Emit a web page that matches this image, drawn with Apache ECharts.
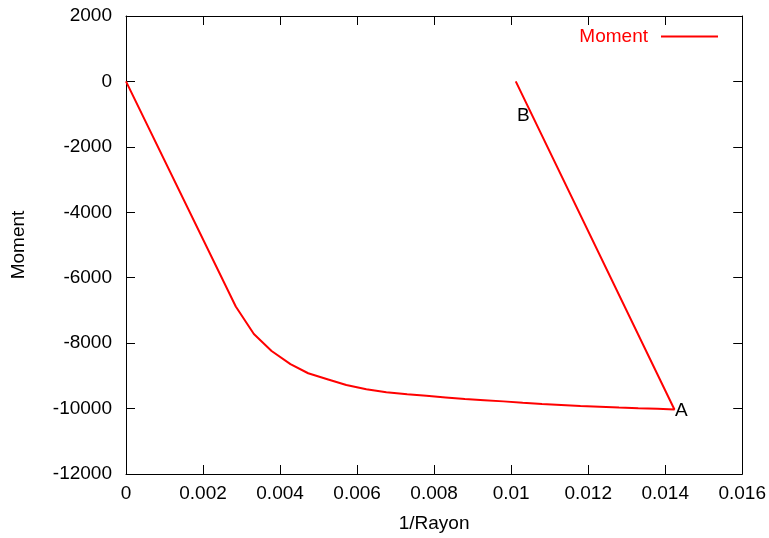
<!DOCTYPE html>
<html>
<head>
<meta charset="utf-8">
<script src="https://cdn.jsdelivr.net/npm/echarts@6/dist/echarts.min.js"></script>
<style>
  html, body { margin: 0; padding: 0; background: #fff; }
  #main { width: 769px; height: 538px; }
</style>
</head>
<body>
<div id="main"></div>
<script>
// 1/Rayon (curvature) and Moment values
const curvature = [0, 0.00285, 0.00332, 0.00378, 0.00427, 0.00473, 0.00525, 0.00572, 0.00624,
  0.00676, 0.0073, 0.0078, 0.0083, 0.0088, 0.0093, 0.0098, 0.0103, 0.0108, 0.0113,
  0.0118, 0.0123, 0.0128, 0.0133, 0.0138, 0.01424, 0.01012];
const moment = [0, -6880, -7720, -8240, -8640, -8920, -9110, -9280, -9410,
  -9500, -9560, -9610, -9660, -9710, -9745, -9780, -9825, -9860, -9890,
  -9920, -9945, -9970, -9990, -10005, -10030, 0];

const xTicks = [0, 0.002, 0.004, 0.006, 0.008, 0.01, 0.012, 0.014, 0.016];
const yTicks = [-12000, -10000, -8000, -6000, -4000, -2000, 0, 2000];

const pointNames = ["A", "B"];
const pointX = [0.0142, 0.0101];
const pointY = [-10080, -1060];

const font = "Liberation Sans, Arial, sans-serif";
const fontSize = 19;

const data = curvature.map((x, i) => [x, moment[i]]);

const chartDom = document.getElementById("main");
const myChart = echarts.init(chartDom, null, { renderer: "canvas" });

const axisCommon = {
  type: "value",
  axisLine: { show: true, onZero: false, lineStyle: { color: "#000", width: 1 } },
  axisTick: { show: true, inside: true, length: 9, lineStyle: { color: "#000", width: 1 } },
  splitLine: { show: false },
};

const option = {
  backgroundColor: "#fff",
  animation: false,
  grid: { left: 126, right: 26, top: 16, bottom: 61, containLabel: false },
  legend: {
    right: 46,
    top: 22,
    align: "right",
    itemWidth: 57,
    itemHeight: 20,
    icon: "path://M0,9 L57,9 L57,11 L0,11 Z",
    itemStyle: { color: "#ff0000" },
    textStyle: { color: "#ff0000", fontFamily: font, fontSize: fontSize, padding: [0, 8, 0, 0] },
    data: ["Moment"],
  },
  xAxis: [
    Object.assign({}, axisCommon, {
      min: xTicks[0],
      max: xTicks[xTicks.length - 1],
      interval: 0.002,
      position: "bottom",
      name: "1/Rayon",
      nameLocation: "middle",
      nameGap: 40,
      nameTextStyle: { color: "#000", fontFamily: font, fontSize: fontSize },
      axisLabel: {
        color: "#000", fontFamily: font, fontSize: fontSize, margin: 10,
        formatter: (v) => String(+v.toFixed(3)),
      },
    }),
    Object.assign({}, axisCommon, {
      min: xTicks[0],
      max: xTicks[xTicks.length - 1],
      interval: 0.002,
      position: "top",
      axisLabel: { show: false },
    }),
  ],
  yAxis: [
    Object.assign({}, axisCommon, {
      min: yTicks[0],
      max: yTicks[yTicks.length - 1],
      interval: 2000,
      position: "left",
      name: "Moment",
      nameLocation: "middle",
      nameGap: 98,
      nameRotate: 90,
      nameTextStyle: { color: "#000", fontFamily: font, fontSize: fontSize },
      axisLabel: {
        color: "#000", fontFamily: font, fontSize: fontSize, margin: 14,
        formatter: (v) => String(v),
      },
    }),
    Object.assign({}, axisCommon, {
      min: yTicks[0],
      max: yTicks[yTicks.length - 1],
      interval: 2000,
      position: "right",
      axisLabel: { show: false },
    }),
  ],
  series: [
    {
      name: "Moment",
      type: "line",
      data: data,
      symbol: "none",
      showSymbol: false,
      lineStyle: { color: "#ff0000", width: 2 },
      itemStyle: { color: "#ff0000" },
      markPoint: {
        symbol: "circle",
        symbolSize: 0,
        itemStyle: { color: "rgba(0,0,0,0)" },
        label: {
          show: true,
          position: "right",
          distance: 2,
          color: "#000",
          fontFamily: font,
          fontSize: fontSize,
          formatter: (p) => p.name,
        },
        data: pointNames.map((n, i) => ({ name: n, coord: [pointX[i], pointY[i]] })),
      },
    },
  ],
};

option && myChart.setOption(option);
</script>
</body>
</html>
